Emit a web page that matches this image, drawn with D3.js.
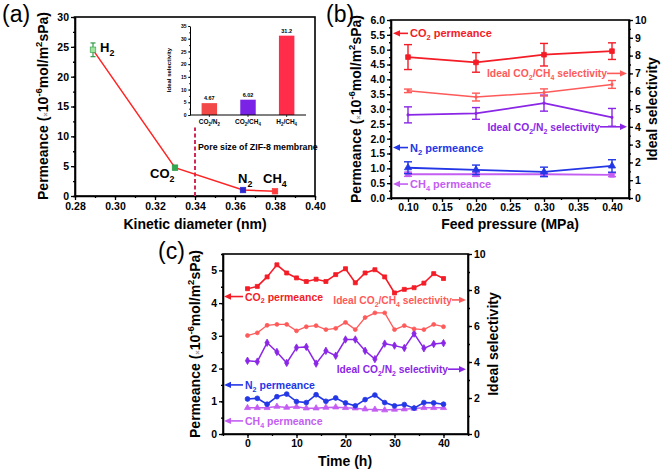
<!DOCTYPE html>
<html><head><meta charset="utf-8">
<script src="https://cdn.jsdelivr.net/npm/d3@7"></script>
<style>body{margin:0;background:#fff} text{font-family:Arial,"Liberation Sans",sans-serif}</style>
</head><body><svg id="c" width="661" height="472"></svg>
<script>
// ---------- Panel (a) data ----------
const gasNames = ["H_{2}", "CO_{2}", "N_{2}", "CH_{4}"];
const kineticDiameter = [0.289, 0.330, 0.364, 0.380];
const gasPermeance = [24.5, 4.75, 1.0, 0.8];
const gasPermErr = [1.15, 0.35, 0.12, 0.08];
const gasColors = ["#9fe39f", "#2fa84f", "#2a2ad0", "#ff3a3a"];
const xTicksA = [0.28, 0.30, 0.32, 0.34, 0.36, 0.38, 0.40];
const yTicksA = [0, 5, 10, 15, 20, 25, 30];
const insetCategories = ["CO_{2}/N_{2}", "CO_{2}/CH_{4}", "H_{2}/CH_{4}"];
const insetValues = [4.67, 6.02, 31.2];
const insetLabels = ["4.67", "6.02", "31.2"];
const insetColors = ["#f24848", "#7a22e6", "#ff2d4a"];
const insetYTicks = [0, 5, 10, 15, 20, 25, 30, 35];

// ---------- Panel (b) data ----------
const pressure = [0.10, 0.20, 0.30, 0.40];
const co2PermP = [4.75, 4.57, 4.83, 4.95];
const co2PermPErr = [0.42, 0.33, 0.38, 0.28];
const n2PermP = [1.02, 0.95, 0.88, 1.08];
const n2PermPErr = [0.20, 0.16, 0.16, 0.21];
const ch4PermP = [0.80, 0.80, 0.80, 0.78];
const ch4PermPErr = [0.07, 0.07, 0.06, 0.06];
const selCO2CH4P = [6.02, 5.67, 5.93, 6.38];
const selCO2CH4PErr = [0.10, 0.22, 0.20, 0.22];
const selCO2N2P = [4.67, 4.75, 5.33, 4.53];
const selCO2N2PErr = [0.45, 0.33, 0.45, 0.50];
const xTicksB = [0.10, 0.15, 0.20, 0.25, 0.30, 0.35, 0.40];
const yTicksBLeft = [0, 0.5, 1, 1.5, 2, 2.5, 3, 3.5, 4, 4.5, 5, 5.5, 6];
const yTicksBRight = [0, 1, 2, 3, 4, 5, 6, 7, 8, 9, 10];

// ---------- Panel (c) data ----------
const time = [0, 2, 4, 6, 8, 10, 12, 14, 16, 18, 20, 22, 24, 26, 28, 30, 32, 34, 36, 38, 40];
const co2PermT = [4.44, 4.51, 4.80, 5.17, 4.92, 4.77, 4.66, 4.73, 4.66, 4.87, 5.05, 4.62, 4.92, 5.02, 4.80, 4.31, 4.42, 4.47, 4.61, 4.90, 4.75];
const selCO2CH4T = [5.47, 5.62, 6.04, 6.09, 6.09, 5.73, 5.96, 6.02, 5.80, 5.87, 6.20, 5.80, 6.47, 6.73, 6.73, 5.80, 6.02, 5.84, 5.80, 6.09, 5.96];
const selCO2N2T = [4.07, 4.02, 5.07, 4.56, 3.95, 4.80, 4.84, 3.91, 4.62, 4.35, 5.25, 5.25, 4.62, 4.16, 5.02, 4.91, 4.78, 5.58, 4.76, 5.00, 5.05];
const n2PermT = [1.07, 1.09, 0.91, 1.14, 1.22, 0.99, 0.96, 1.20, 1.00, 1.10, 0.95, 0.86, 1.05, 1.19, 0.96, 0.86, 0.90, 0.79, 0.96, 0.95, 0.91];
const ch4PermT = [0.80, 0.80, 0.80, 0.84, 0.81, 0.83, 0.79, 0.79, 0.81, 0.82, 0.80, 0.79, 0.76, 0.75, 0.73, 0.75, 0.76, 0.78, 0.80, 0.80, 0.80];
const xTicksC = [0, 10, 20, 30, 40];
const yTicksCLeft = [0, 1, 2, 3, 4, 5];
const yTicksCRight = [0, 2, 4, 6, 8, 10];

// ---------- colours ----------
const cRed = "#f41c26", cLightRed = "#ff5a5a", cPurple = "#8a26e6", cBlue = "#2337e6", cViolet = "#c45ef2";

const svg = d3.select("#c");
svg.append("rect").attr("width", 661).attr("height", 472).attr("fill", "#fff");
const FONT = "Arial, 'Liberation Sans', sans-serif";

// rich text: _{..} subscript, ^{..} superscript, ~{..} small grey
function rich(sel, str, fs) {
  const re = /([_^~])\{([^}]*)\}|([^_^~]+)/g;
  let m, cur = 0;
  while ((m = re.exec(str))) {
    if (m[3] !== undefined) {
      sel.append("tspan").attr("dy", -cur).text(m[3]); cur = 0;
    } else {
      const t = m[1] === "_" ? fs * 0.28 : m[1] === "^" ? -fs * 0.42 : 0;
      const ts = sel.append("tspan").attr("dy", t - cur).attr("font-size", fs * 0.68).text(m[2]);
      if (m[1] === "~") ts.attr("fill", "#9a9a9a").attr("font-size", fs * 0.55);
      cur = t;
    }
  }
  return sel;
}
function txt(x, y, str, fs, opts = {}) {
  const t = svg.append("text").attr("x", x).attr("y", y).attr("font-size", fs)
    .attr("font-family", FONT).attr("font-weight", opts.weight || "bold")
    .attr("fill", opts.fill || "#000").attr("text-anchor", opts.anchor || "start");
  if (opts.rotate) t.attr("transform", `rotate(${opts.rotate},${x},${y})`);
  return rich(t, str, fs);
}
function drawAxis(orient, scale, x0, y0, majors, minors, fmt, o = {}) {
  const mk = { bottom: d3.axisBottom, left: d3.axisLeft, right: d3.axisRight }[orient];
  const ms = o.major || 4, mn = o.minor || 2, fs = o.fs || 11;
  if (minors) {
    const gm = svg.append("g").attr("transform", `translate(${x0},${y0})`)
      .call(mk(scale).tickValues(minors).tickSize(mn).tickFormat("").tickSizeOuter(0));
    gm.select(".domain").remove();
    gm.selectAll("line").attr("stroke", "#000").attr("stroke-width", o.sw || 1.3);
  }
  const g = svg.append("g").attr("transform", `translate(${x0},${y0})`)
    .call(mk(scale).tickValues(majors).tickSize(ms).tickPadding(o.pad || 2).tickFormat(fmt).tickSizeOuter(0));
  g.attr("font-family", FONT).attr("font-size", fs).attr("font-weight", "bold");
  g.selectAll("text").attr("fill", "#000");
  g.selectAll("line").attr("stroke", "#000").attr("stroke-width", o.sw || 1.3);
  g.select(".domain").attr("stroke", "#000").attr("stroke-width", o.dw || 1.6);
  return g;
}
function frame(x0, y0, x1, y1) {
  svg.append("rect").attr("x", x0).attr("y", y0).attr("width", x1 - x0).attr("height", y1 - y0)
    .attr("fill", "none").attr("stroke", "#000").attr("stroke-width", 1.6);
}
function arrow(x1, x2, y, color) {
  const dir = Math.sign(x2 - x1);
  svg.append("line").attr("x1", x1).attr("x2", x2 - dir * 5).attr("y1", y).attr("y2", y)
    .attr("stroke", color).attr("stroke-width", 1.6);
  svg.append("path").attr("d", `M${x2},${y}L${x2 - dir * 7},${y - 3.2}L${x2 - dir * 7},${y + 3.2}Z`).attr("fill", color);
}
function series(xs, ys, errs, xsc, ysc, color, symType, opts = {}) {
  const pts = xs.map((x, i) => [xsc(x), ysc(ys[i])]);
  svg.append("path").attr("d", d3.line()(pts)).attr("fill", "none")
    .attr("stroke", color).attr("stroke-width", opts.lw || 1.8);
  if (errs) {
    const cap = opts.cap || 4;
    xs.forEach((x, i) => {
      const px = xsc(x), lo = ysc(ys[i] - errs[i]), hi = ysc(ys[i] + errs[i]);
      const g = svg.append("g").attr("stroke", opts.ecolor || color).attr("stroke-width", 1.4);
      g.append("line").attr("x1", px).attr("x2", px).attr("y1", lo).attr("y2", hi);
      g.append("line").attr("x1", px - cap).attr("x2", px + cap).attr("y1", lo).attr("y2", lo);
      g.append("line").attr("x1", px - cap).attr("x2", px + cap).attr("y1", hi).attr("y2", hi);
    });
  }
  const sym = d3.symbol().type(symType).size(opts.size || 22);
  pts.forEach(p => svg.append("path").attr("d", sym()).attr("transform", `translate(${p[0]},${p[1]})`)
    .attr("fill", opts.fill || color).attr("stroke", color).attr("stroke-width", 0.8));
}
const fmt1 = d3.format(".1f"), fmt2 = d3.format(".2f"), fmt0 = d3.format("d");

// ================= Panel (a) =================
const xA = d3.scaleLinear([0.28, 0.40], [75, 315]);
const yA = d3.scaleLinear([0, 30], [196, 17]);
frame(75, 17, 315, 196);
drawAxis("bottom", xA, 0, 196, xTicksA, d3.range(0.28, 0.4001, 0.01), fmt2, { fs: 10.5, pad: 3 });
drawAxis("left", yA, 75, 0, yTicksA, d3.range(0, 30.1, 2.5), fmt0, { fs: 10.5 });
// dashed pore-size line
svg.append("line").attr("x1", xA(0.34)).attr("x2", xA(0.34)).attr("y1", yA(0)).attr("y2", yA(11.5))
  .attr("stroke", "#d02a55").attr("stroke-width", 2).attr("stroke-dasharray", "4,2.5");
txt(198, 150, "Pore size of ZIF-8 membrane", 8.8);
// line + error bars + markers
svg.append("path").attr("d", d3.line()(kineticDiameter.map((d, i) => [xA(d), yA(gasPermeance[i])])))
  .attr("fill", "none").attr("stroke", "#ff2424").attr("stroke-width", 1.5);
kineticDiameter.forEach((d, i) => {
  const px = xA(d), lo = yA(gasPermeance[i] - gasPermErr[i]), hi = yA(gasPermeance[i] + gasPermErr[i]);
  const ec = i < 2 ? "#2e9a46" : gasColors[i];
  const g = svg.append("g").attr("stroke", ec).attr("stroke-width", 1.2);
  g.append("line").attr("x1", px).attr("x2", px).attr("y1", lo).attr("y2", hi);
  g.append("line").attr("x1", px - 2.5).attr("x2", px + 2.5).attr("y1", lo).attr("y2", lo);
  g.append("line").attr("x1", px - 2.5).attr("x2", px + 2.5).attr("y1", hi).attr("y2", hi);
  svg.append("rect").attr("x", px - 2.8).attr("y", yA(gasPermeance[i]) - 2.8).attr("width", 5.6).attr("height", 5.6)
    .attr("fill", gasColors[i]).attr("stroke", ec).attr("stroke-width", 0.6);
});
const gasLabelPos = [[100, 52], [150, 178], [238, 183], [263, 183]];
gasNames.forEach((n, i) => txt(gasLabelPos[i][0], gasLabelPos[i][1], n, 13));
txt(48, 106, "Permeance (~{×}10^{-6}mol/m^{2}sPa)", 14, { anchor: "middle", rotate: -90 });
txt(195, 229, "Kinetic diameter (nm)", 14, { anchor: "middle" });
txt(2, 22, "(a)", 23, { weight: "normal" });

// inset
const xI = d3.scaleBand(insetCategories, [190, 306]).paddingInner(0.6).paddingOuter(0.3);
const yI = d3.scaleLinear([0, 35], [115, 26]);
insetCategories.forEach((c, i) => {
  svg.append("rect").attr("x", xI(c)).attr("y", yI(insetValues[i])).attr("width", xI.bandwidth())
    .attr("height", yI(0) - yI(insetValues[i])).attr("fill", insetColors[i]);
  txt(xI(c) + xI.bandwidth() / 2, yI(insetValues[i]) - 3, insetLabels[i], 5.5, { anchor: "middle" });
  txt(xI(c) + xI.bandwidth() / 2, 124, c, 6.5, { anchor: "middle" });
});
drawAxis("left", yI, 190, 0, insetYTicks, d3.range(0, 35.1, 2.5), fmt0, { major: 2, minor: 1, fs: 5, pad: 1.5, sw: 0.8, dw: 1 });
svg.append("line").attr("x1", 190).attr("x2", 306).attr("y1", 115).attr("y2", 115).attr("stroke", "#000").attr("stroke-width", 1);
insetCategories.forEach(c => svg.append("line").attr("x1", xI(c) + xI.bandwidth() / 2).attr("x2", xI(c) + xI.bandwidth() / 2)
  .attr("y1", 115).attr("y2", 117).attr("stroke", "#000").attr("stroke-width", 0.8));
txt(171, 70, "Ideal selectivity", 6, { anchor: "middle", rotate: -90 });

// ================= Panel (b) =================
const xB = d3.scaleLinear([0.075, 0.425], [391, 629]);
const yBL = d3.scaleLinear([0, 6], [198, 20]);
const yBR = d3.scaleLinear([0, 10], [198, 20]);
frame(391, 20, 629, 198);
drawAxis("bottom", xB, 0, 198, xTicksB, d3.range(0.075, 0.426, 0.025), fmt2, { fs: 10.5 });
drawAxis("left", yBL, 391, 0, yTicksBLeft, d3.range(0, 6.01, 0.25), fmt1, { fs: 10.5 });
drawAxis("right", yBR, 629, 0, yTicksBRight, d3.range(0, 10.01, 0.5), fmt0, { fs: 10.5 });
series(pressure, ch4PermP, ch4PermPErr, xB, yBL, cViolet, d3.symbolSquare, { cap: 4 });
series(pressure, n2PermP, n2PermPErr, xB, yBL, cBlue, d3.symbolTriangle, { cap: 4 });
series(pressure, selCO2N2P, selCO2N2PErr, xB, yBR, cPurple, d3.symbolSquare, { cap: 4, size: 4 });
series(pressure, selCO2CH4P, selCO2CH4PErr, xB, yBR, cLightRed, d3.symbolSquare, { cap: 4, size: 4, lw: 1.5 });
series(pressure, co2PermP, co2PermPErr, xB, yBL, cRed, d3.symbolSquare, { cap: 4 });
arrow(408, 393, yBL(5.55), cRed); txt(410, yBL(5.55) + 4, "CO_{2} permeance", 11, { fill: cRed });
arrow(408, 393, yBL(1.7), cBlue); txt(410, yBL(1.7) + 4, "N_{2} permeance", 11, { fill: cBlue });
arrow(408, 393, yBL(0.47), cViolet); txt(410, yBL(0.47) + 4, "CH_{4} permeance", 11, { fill: cViolet });
txt(607, yBR(7.0) + 4, "Ideal CO_{2}/CH_{4} selectivity", 10.3, { fill: cLightRed, anchor: "end" });
arrow(607, 627, yBR(7.0), cLightRed);
txt(600, yBR(4.0) + 4, "Ideal CO_{2}/N_{2} selectivity", 10.3, { fill: cPurple, anchor: "end" });
arrow(600, 627, yBR(4.0), cPurple);
txt(361, 109, "Permeance (~{×}10^{-6}mol/m^{2}sPa)", 14, { anchor: "middle", rotate: -90 });
txt(657, 109, "Ideal selectivity", 14, { anchor: "middle", rotate: -90 });
txt(510, 229, "Feed pressure (MPa)", 14, { anchor: "middle" });
txt(326, 22, "(b)", 23, { weight: "normal" });

// ================= Panel (c) =================
const xC = d3.scaleLinear([-5, 45], [223, 468]);
const yCL = d3.scaleLinear([0, 5.5], [434, 254]);
const yCR = d3.scaleLinear([0, 10], [434, 254]);
frame(223, 254, 468, 434);
drawAxis("bottom", xC, 0, 434, xTicksC, d3.range(-5, 45.1, 5), fmt0, { fs: 10.5 });
drawAxis("left", yCL, 223, 0, yTicksCLeft, d3.range(0, 5.51, 0.5), fmt0, { fs: 10.5 });
drawAxis("right", yCR, 468, 0, yTicksCRight, d3.range(0, 10.01, 1), fmt0, { fs: 10.5 });
series(time, ch4PermT, null, xC, yCL, cViolet, d3.symbolTriangle, { lw: 1.5, size: 16 });
series(time, n2PermT, null, xC, yCL, cBlue, d3.symbolCircle, { lw: 1.6, size: 18 });
series(time, selCO2N2T, null, xC, yCR, cPurple, d3.symbolDiamond, { lw: 1.5, size: 16 });
series(time, selCO2CH4T, null, xC, yCR, cLightRed, d3.symbolCircle, { lw: 1.3, size: 12 });
series(time, co2PermT, null, xC, yCL, cRed, d3.symbolSquare, { lw: 1.6, size: 16 });
arrow(243, 224, yCL(4.2), cRed); txt(245, yCL(4.2) + 4, "CO_{2} permeance", 10.5, { fill: cRed });
arrow(243, 224, yCL(1.5), cBlue); txt(245, yCL(1.5) + 4, "N_{2} permeance", 10.5, { fill: cBlue });
arrow(243, 224, yCL(0.4), cViolet); txt(245, yCL(0.4) + 4, "CH_{4} permeance", 10.5, { fill: cViolet });
txt(452, yCR(7.45) + 4, "Ideal CO_{2}/CH_{4} selectivity", 10.2, { fill: cLightRed, anchor: "end" });
arrow(452, 466, yCR(7.45), cLightRed);
txt(448, yCR(3.6) + 4, "Ideal CO_{2}/N_{2} selectivity", 10.2, { fill: cPurple, anchor: "end" });
arrow(448, 466, yCR(3.6), cPurple);
txt(200, 344, "Permeance (~{×}10^{-6}mol/m^{2}sPa)", 14, { anchor: "middle", rotate: -90 });
txt(498, 344, "Ideal selectivity", 14, { anchor: "middle", rotate: -90 });
txt(345, 466, "Time (h)", 14, { anchor: "middle" });
txt(158, 259, "(c)", 23, { weight: "normal" });
</script></body></html>
